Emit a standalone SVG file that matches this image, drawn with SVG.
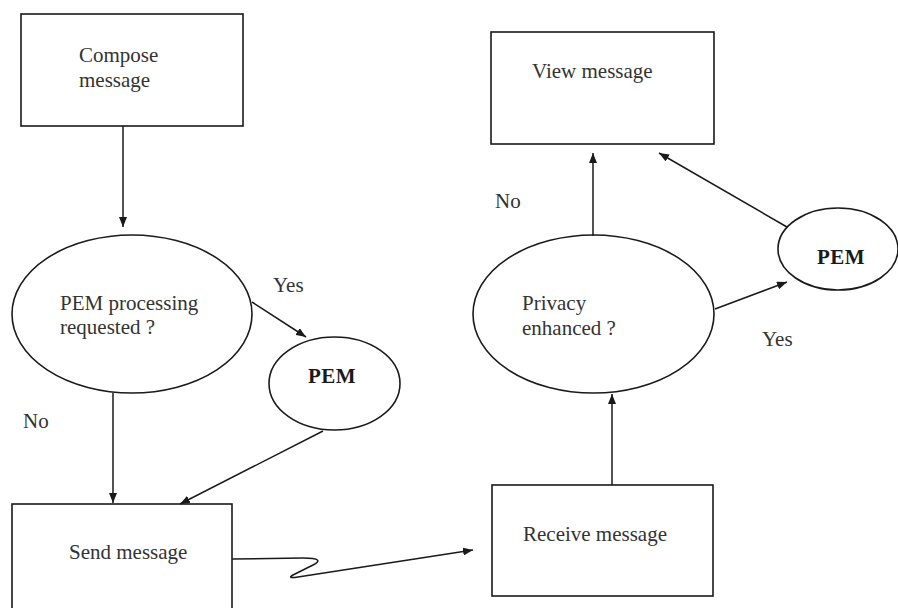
<svg xmlns="http://www.w3.org/2000/svg" width="898" height="608" viewBox="0 0 898 608">
  <style>
    .box { fill: #ffffff; stroke: #1a1a1a; stroke-width: 1.6; }
    .lbl { font-family: "Liberation Serif", "Times New Roman", serif; font-size: 21px; fill: #333333; }
    .bold { font-weight: bold; fill: #1a1a1a; letter-spacing: 0.5px; }
    .edge { fill: none; stroke: #1a1a1a; stroke-width: 1.5; marker-end: url(#arrow); }
  </style>
  <defs>
    <marker id="arrow" markerUnits="userSpaceOnUse" markerWidth="11" markerHeight="8" refX="10" refY="4" orient="auto">
      <path d="M0,0 L10,4 L0,8 z" fill="#1a1a1a"/>
    </marker>
  </defs>
  <rect width="898" height="608" fill="#ffffff"/>

  <g id="compose">
    <rect class="box" x="21" y="14" width="222" height="112"/>
    <text class="lbl" x="79" y="62">Compose</text>
    <text class="lbl" x="79" y="87">message</text>
  </g>

  <g id="pem-requested">
    <ellipse class="box" cx="132" cy="314" rx="120" ry="79"/>
    <text class="lbl" x="60" y="310">PEM processing</text>
    <text class="lbl" x="60" y="334">requested ?</text>
  </g>

  <g id="pem-send">
    <ellipse class="box" cx="334.5" cy="383.5" rx="65.5" ry="46.5"/>
    <text class="lbl bold" x="308" y="383">PEM</text>
  </g>

  <g id="send">
    <rect class="box" x="12" y="504" width="220" height="110"/>
    <text class="lbl" x="69" y="559">Send message</text>
  </g>

  <g id="receive">
    <rect class="box" x="492" y="485" width="221" height="111"/>
    <text class="lbl" x="523" y="541">Receive message</text>
  </g>

  <g id="privacy">
    <ellipse class="box" cx="593.5" cy="314" rx="120.5" ry="79"/>
    <text class="lbl" x="522" y="310">Privacy</text>
    <text class="lbl" x="522" y="335">enhanced ?</text>
  </g>

  <g id="pem-view">
    <ellipse class="box" cx="838" cy="249" rx="60" ry="41"/>
    <text class="lbl bold" x="817" y="264">PEM</text>
  </g>

  <g id="view">
    <rect class="box" x="491" y="32" width="223" height="112"/>
    <text class="lbl" x="532" y="78">View message</text>
  </g>

  <g id="connectors">
    <path class="edge" d="M123,126 L123,227"/>
    <path class="edge" d="M252,302 L306,337"/>
    <path class="edge" d="M113,393 L113,503"/>
    <path class="edge" d="M323,431 L180,504"/>
    <path class="edge" d="M232,559 L303,558 C320,558 321,561 313,565 L293,575 C288,578 292,578 298,577 L473,550"/>
    <path class="edge" d="M612,485 L612,394"/>
    <path class="edge" d="M593,236 L593,153"/>
    <path class="edge" d="M715,309 L787,282"/>
    <path class="edge" d="M787,227 L659,153"/>
  </g>

  <g id="labels">
    <text class="lbl" x="273" y="292">Yes</text>
    <text class="lbl" x="23" y="428">No</text>
    <text class="lbl" x="495" y="208">No</text>
    <text class="lbl" x="762" y="346">Yes</text>
  </g>
</svg>
